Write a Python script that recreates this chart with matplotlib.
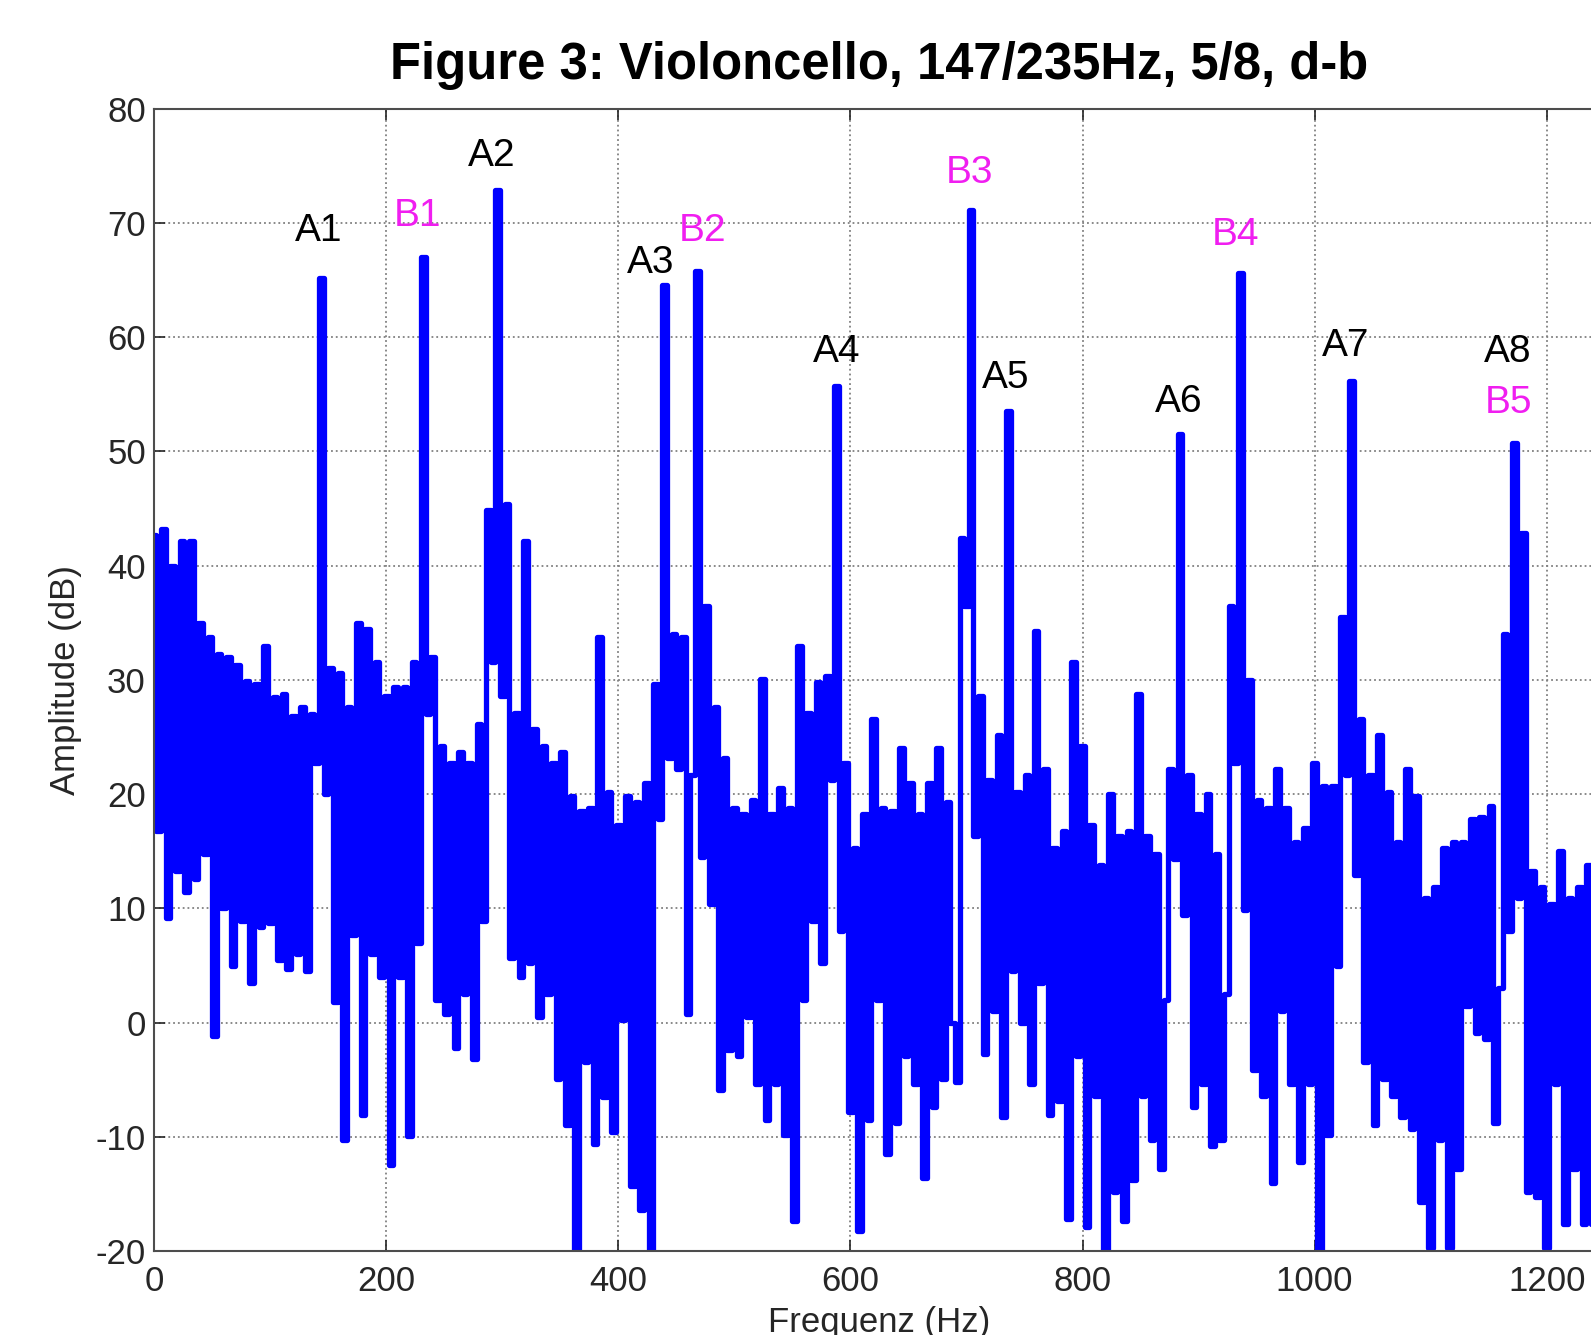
import matplotlib
matplotlib.use("Agg")
import matplotlib.pyplot as plt
import numpy as np

plt.rcParams['font.family'] = ['Liberation Sans', 'DejaVu Sans']
plt.rcParams['axes.unicode_minus'] = False

# spectrum, one value every 4 Hz (0 .. 1240 Hz)
freq_hz = np.arange(0, 1244, 4)
amp_db = [
    42.7, 16.8, 43.2, 9.2, 40.0, 13.3, 42.2, 11.4, 42.2, 12.6,      # 0
    35.0, 14.8, 33.8, -1.2, 32.3, 10.0, 32.0, 5.0, 31.3, 8.9,       # 40
    29.9, 3.5, 29.6, 8.4, 33.0, 8.7, 28.5, 5.5, 28.8, 4.7,          # 80
    26.8, 6.0, 27.6, 4.5, 27.0, 22.7, 65.2, 20.0, 31.0, 1.8,        # 120
    30.6, -10.3, 27.6, 7.7, 35.0, -8.1, 34.5, 6.0, 31.6, 4.0,       # 160
    28.6, -12.5, 29.4, 4.0, 29.4, -9.9, 31.6, 7.0, 67.0, 27.0,      # 200
    32.0, 2.0, 24.2, 0.8, 22.7, -2.2, 23.7, 2.5, 22.7, -3.2,        # 240
    26.1, 8.9, 44.9, 31.6, 72.9, 28.6, 45.4, 5.7, 27.1, 4.0,        # 280
    42.2, 5.2, 25.7, 0.5, 24.2, 2.5, 22.7, -4.9, 23.7, -9.0,        # 320
    19.8, -22.0, 18.5, -3.4, 18.8, -10.6, 33.8, -6.5, 20.2, -9.6,   # 360
    17.3, 0.2, 19.8, -14.3, 19.3, -16.4, 21.0, -22.0, 29.6, 17.8,   # 400
    64.6, 23.2, 34.0, 22.2, 33.8, 0.8, 21.7, 65.8, 14.5, 36.5,      # 440
    10.4, 27.6, -5.9, 23.2, -2.4, 18.8, -2.9, 18.3, 0.5, 19.5,      # 480
    -5.4, 30.1, -8.5, 18.3, -5.4, 20.5, -9.8, 18.8, -17.4, 33.0,    # 520
    2.0, 27.1, 8.9, 29.8, 5.2, 30.3, 21.2, 55.7, 8.0, 22.7,         # 560
    -7.8, 15.3, -18.2, 18.3, -8.5, 26.6, 2.0, 18.8, -11.5, 18.5,    # 600
    -8.8, 24.0, -2.9, 21.0, -5.4, 18.3, -13.6, 21.0, -7.4, 24.0,    # 640
    -4.9, 19.3, 0.0, -5.2, 42.4, 36.5, 71.1, 16.3, 28.6, -2.7,      # 680
    21.2, 1.0, 25.2, -8.3, 53.5, 4.5, 20.2, 0.0, 21.7, -5.4,        # 720
    34.3, 3.5, 22.2, -8.1, 15.3, -6.9, 16.8, -17.2, 31.6, -2.9,     # 760
    24.2, -17.9, 17.3, -6.4, 13.8, -22.0, 20.0, -14.8, 16.3, -17.4, # 800
    16.8, -13.8, 28.8, -6.4, 16.3, -10.3, 14.8, -12.8, 2.0, 22.2,   # 840
    14.3, 51.5, 9.4, 21.7, -7.4, 18.3, -5.4, 20.0, -10.8, 14.8,     # 880
    -10.3, 2.5, 36.5, 22.7, 65.6, 9.9, 30.0, -4.1, 19.5, -6.4,      # 920
    18.8, -14.0, 22.2, 1.0, 18.8, -5.4, 15.8, -12.2, 17.0, -5.4,    # 960
    22.7, -22.0, 20.7, -9.8, 20.7, 5.0, 35.5, 21.7, 56.2, 12.9,     # 1000
    26.6, -3.4, 21.7, -9.0, 25.2, -4.9, 20.2, -6.4, 15.8, -8.3,     # 1040
    22.2, -9.3, 19.8, -15.7, 10.9, -19.7, 11.9, -10.3, 15.3, -19.7, # 1080
    15.8, -12.8, 15.8, 1.5, 17.8, -0.9, 18.0, -1.4, 19.0, -8.8,     # 1120
    3.0, 34.0, 8.0, 50.7, 10.9, 42.9, -14.8, 13.3, -15.3, 11.9,     # 1160
    -19.7, 10.4, -5.4, 15.0, -17.6, 10.9, -12.8, 11.9, -17.6, 13.8, # 1200
    -17.6,                                                          # 1240
]

# peak labels (A = string 1, B = string 2)
peak_labels = ['A1', 'B1', 'A2', 'A3', 'B2', 'A4', 'B3', 'A5', 'A6', 'B4', 'A7', 'A8', 'B5']
label_x = [142, 227, 291, 428, 473, 588, 703, 734, 883, 932, 1027, 1166, 1167]
label_y = [69.3, 70.6, 75.9, 66.5, 69.3, 58.7, 74.4, 56.4, 54.3, 68.9, 59.2, 58.7, 54.2]

xticks = [0, 200, 400, 600, 800, 1000, 1200]
yticks = list(range(-20, 81, 10))

fig = plt.figure(figsize=(15.91, 13.35), dpi=100)
ax = fig.add_axes([0.0969, 0.0628, 0.9482, 0.8558])

ax.plot(freq_hz, amp_db, color='#0000FF', linewidth=3.8, drawstyle='steps-mid')

for lab, x, y in zip(peak_labels, label_x, label_y):
    col = 'black' if lab.startswith('A') else '#F01EF0'
    ax.text(x, y, lab, color=col, fontsize=28, ha='center', va='center')

ax.set_xticks(xticks)
ax.set_yticks(yticks)
ax.set_xlim(0, 1300)
ax.set_ylim(-20, 80)
ax.grid(True, linestyle=':', color='0.5', linewidth=1.3)
ax.tick_params(direction='in', top=True, right=True, length=8, width=1.2,
               labelsize=25, colors='0.15')
ax.tick_params(axis='x', pad=10)
ax.tick_params(axis='y', pad=6)
for s in ax.spines.values():
    s.set_color('0.3')
    s.set_linewidth(1.5)

ax.set_ylabel('Amplitude (dB)', fontsize=25, color='0.15')
ax.yaxis.set_label_coords(-0.048, 0.5)
ax.set_xlabel('Frequenz (Hz)', fontsize=25, color='0.15')
ax.xaxis.set_label_coords(0.4805, -0.048)

fig.text(0.5525, 0.9408, 'Figure 3: Violoncello, 147/235Hz, 5/8, d-b',
         fontsize=36.5, fontweight='bold', ha='center', va='baseline')

fig.savefig('out.png', dpi=100)
